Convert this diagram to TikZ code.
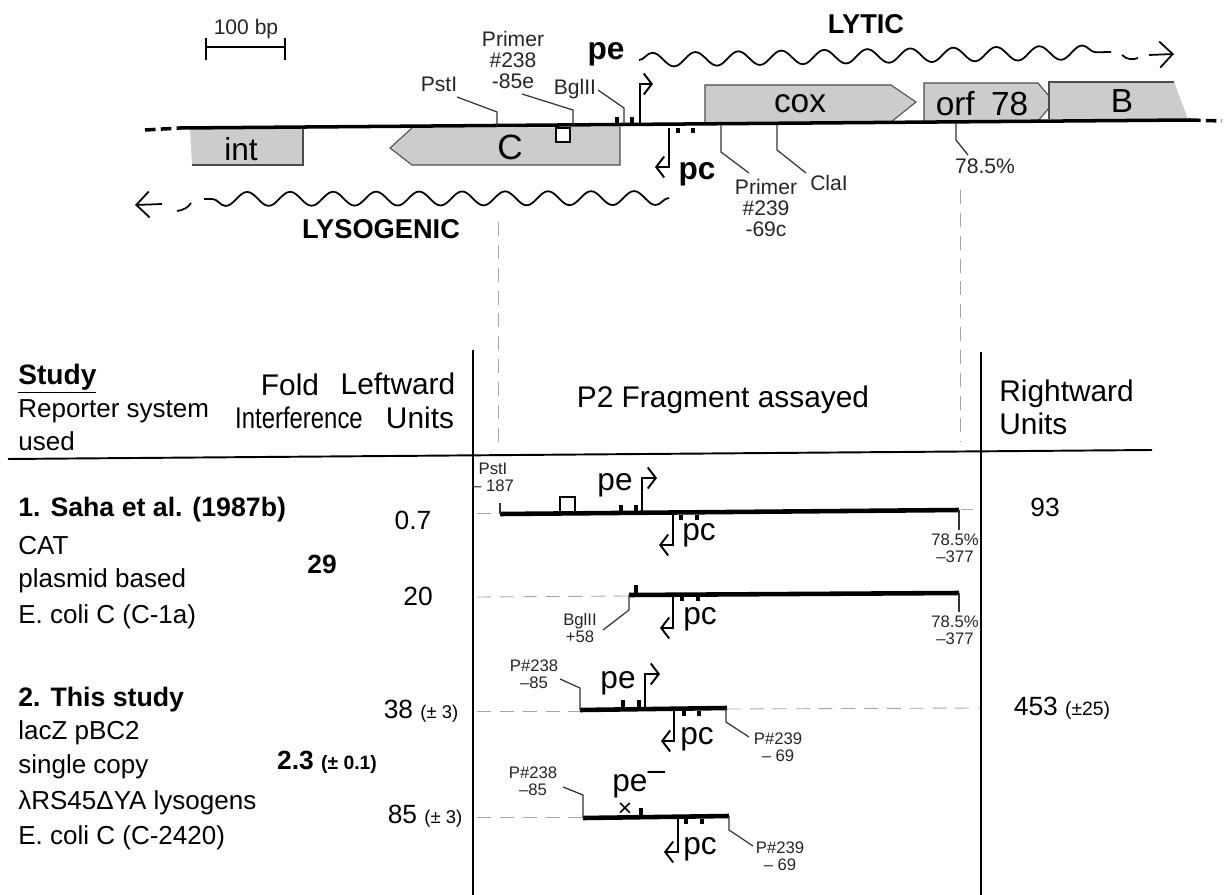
\documentclass[tikz,border=0pt]{standalone}
\usepackage{fontspec}
\setmainfont{Liberation Sans}
\usetikzlibrary{arrows.meta,decorations.pathmorphing}
\newcommand{\fsz}[1]{\fontsize{#1}{#1}\selectfont}
\begin{document}
\begin{tikzpicture}[x=0.02cm,y=-0.02cm,
    gene/.style={draw=black!70,line width=0.6pt,fill=black!20},
    dna/.style={line width=2pt},
    frag/.style={line width=2.6pt},
    site/.style={line width=2pt},
    leader/.style={line width=0.7pt,black!80},
    guide/.style={line width=0.5pt,black!35,dash pattern=on 8pt off 5pt},
    wave/.style={line width=1pt,decorate,decoration={snake,segment length=0.86cm,amplitude=0.14cm}},
    prom/.style={line width=1.1pt,-{Straight Barb[length=1.6mm,width=4.2mm,line width=1.1pt]}},
    tag/.style={font=\fsz{12},inner sep=0pt,align=center,black!85},
    small/.style={font=\fsz{9.5},inner sep=0pt,align=center,black!85},
    head/.style={font=\fsz{17},inner sep=0pt,align=center},
    side/.style={font=\fsz{14.8},inner sep=0pt,anchor=west},
    sidebf/.style={font=\fsz{15.2}\bfseries,inner sep=0pt,anchor=west},
    val/.style={font=\fsz{15},inner sep=0pt},
    big/.style={font=\fsz{18},inner sep=0pt}]
  \useasboundingbox (0,0) rectangle (1224,895);
  % scale bar
  \node[tag] (bar) at (246,29) {100 bp};
  \coordinate (barl) at (206,47);
  \coordinate (barr) at (285,47);
  \draw[line width=1.1pt] (barl) -- (barr);
  \draw[line width=1.1pt] (206,38) -- (206,60);
  \draw[line width=1.1pt] (285,38) -- (285,60);
  % genes
  \fill[black!20] (190,128) -- (303,128) -- (303,165) -- (192,165) -- cycle;
  \draw[gene,fill=none] (303,128) -- (303,165) -- (192,165);
  \fill[black!20] (620,127) -- (620,165) -- (412,165) -- (390,148) -- (412,128) -- cycle;
  \draw[gene,fill=none] (620,127) -- (620,165) -- (412,165) -- (390,148) -- (412,128);
  \fill[black!20] (705,123) -- (705,85) -- (891,85) -- (916,102) -- (891,122) -- cycle;
  \draw[gene,fill=none] (705,123) -- (705,85) -- (891,85) -- (916,102) -- (891,122);
  \fill[black!20] (924,122) -- (924,83) -- (1038,83) -- (1054,102) -- (1038,121) -- cycle;
  \draw[gene,fill=none] (924,122) -- (924,83) -- (1038,83) -- (1054,102) -- (1038,121);
  \fill[black!20] (1049,119) -- (1049,82) -- (1174,82) -- (1188,119) -- cycle;
  \draw[gene,fill=none] (1049,119) -- (1049,82) -- (1174,82);
  \node[big] (int) at (241,149) {int};
  \node[big,font=\fsz{20}] (c) at (510,147) {C};
  \node[big,font=\fsz{19}] (cox) at (800,104) {cox};
  \node[big,font=\fsz{19}] (orf) at (982,104) {orf\hspace{4pt} 78};
  \node[big,font=\fsz{19}] (b) at (1122,101) {B};
  % chromosome
  \coordinate (chl) at (180,128);
  \coordinate (chr) at (1190,120);
  \draw[dna] (chl) -- (chr);
  \draw[dna,dash pattern=on 6pt off 3pt] (145,130) -- (chl);
  \draw[dna,dash pattern=on 6pt off 3pt] (chr) -- (1222,121);
  \draw[line width=0.9pt,fill=white] (556,128) rectangle (570,142);
  % sites on the chromosome
  \node[tag] (pst) at (439,84) {PstI};
  \node[tag] (p238) at (513,60) {Primer\\\#238\\-85e};
  \node[tag] (bgl) at (575,89) {BglII};
  \node[tag] (p239) at (766,208) {Primer\\\#239\\-69c};
  \node[tag] (cla) at (829,183) {ClaI};
  \node[tag] (pct) at (985,166) {78.5\%};
  \coordinate (pstc) at (497,126);
  \coordinate (p238c) at (573,125);
  \coordinate (bglc) at (624,124);
  \coordinate (p239c) at (721,125);
  \coordinate (clac) at (777,125);
  \coordinate (pctc) at (956,123);
  \draw[leader] (457,97) -- (497,112) -- (pstc);
  \draw[leader] (522,94) -- (573,110) -- (p238c);
  \draw[leader] (598,90) -- (624,108) -- (bglc);
  \draw[leader] (p239c) -- (721,152) -- (749,173);
  \draw[leader] (clac) -- (777,150) -- (806,173);
  \draw[leader] (pctc) -- (956,140) -- (968,155);
  % promoters
  \draw[site] (617,117) -- (617,125);
  \draw[site] (632,117) -- (632,125);
  \draw[prom] (640,125) -- (640,84) -- (653,84);
  \node[big,font=\fsz{18}\bfseries] (pe) at (606,54) {pe};
  \draw[prom] (669,128) -- (669,167) -- (655,167);
  \draw[site] (678,128) -- (678,133);
  \draw[site] (693,128) -- (693,133);
  \node[big,font=\fsz{18}\bfseries] (pc) at (697,174) {pc};
  % transcripts
  \coordinate (lyta) at (639,60);
  \coordinate (lytb) at (1111,52);
  \draw[wave] (lyta) -- (lytb);
  \draw[line width=1pt] (1122,55) .. controls (1127,60) and (1133,60) .. (1138,58);
  \draw[prom,line width=1pt,-{Straight Barb[length=2.6mm,width=5.2mm,line width=1pt]}] (1149,55) -- (1174,54);
  \node[big,font=\fsz{15.5}\bfseries] (lytic) at (866,24) {LYTIC};
  \coordinate (lysa) at (669,198);
  \coordinate (lysb) at (204,199);
  \draw[wave] (lysa) -- (lysb);
  \draw[line width=1pt] (177,211) .. controls (183,210) and (188,208) .. (191,203);
  \draw[prom,line width=1pt,-{Straight Barb[length=2.6mm,width=5.2mm,line width=1pt]}] (162,204) -- (135,205);
  \node[big,font=\fsz{15.5}\bfseries] (lyso) at (381,229) {LYSOGENIC};
  % guide lines
  \draw[guide] (498,222) -- (498,445);
  \draw[guide] (960,190) -- (960,442);
  % table frame
  \draw[line width=1.4pt] (473,350) -- (473,895);
  \draw[line width=1.4pt] (981,352) -- (981,895);
  \draw[line width=1.1pt] (8,459) -- (1152,450);
  % table head
  \node[side,font=\fsz{16}\bfseries] (study) at (18,379) {\underline{Study}};
  \node[side] (rep) at (18,411) {Reporter system};
  \node[side] (used) at (18,441) {used};
  \node[head] (fold) at (290,385) {Fold};
  \node[head] (interf) at (299,418) {\scalebox{0.8}[1]{Interference}};
  \node[head] (left) at (398,384) {Leftward};
  \node[head] (lunits) at (420,418) {Units};
  \node[head] (frg) at (723,400) {P2 Fragment assayed};
  \node[head,anchor=west] (right) at (999,394) {Rightward};
  \node[head,anchor=west] (runits) at (999,424) {Units};
  % first study
  \node[sidebf] (saha) at (18,510) {1. Saha et al. (1987b)};
  \node[side] (cat) at (18,546) {CAT};
  \node[side] (plas) at (18,581) {plasmid based};
  \node[side] (coli1) at (18,617) {E. coli C (C-1a)};
  \node[val] (v07) at (413,520) {0.7};
  \node[val] (v20) at (418,596) {20};
  \node[val,font=\fsz{15}\bfseries] (v29) at (322,564) {29};
  \node[val] (v93) at (1045,507) {93};
  % second study
  \node[sidebf] (this) at (18,700) {2. This study};
  \node[side] (lacz) at (18,733) {lacZ pBC2};
  \node[side] (copy) at (18,767) {single copy};
  \node[side] (lam) at (18,803) {λRS45ΔYA lysogens};
  \node[side] (coli2) at (18,838) {E. coli C (C-2420)};
  \node[val] (v38) at (421,711) {38 {\fsz{10.5}(± 3)}};
  \node[val] (v85) at (425,816) {85 {\fsz{10.5}(± 3)}};
  \node[val,font=\fsz{15}\bfseries] (v23) at (327,762) {2.3 {\fsz{11}(± 0.1)}};
  \node[val] (v453) at (1062,708) {453 {\fsz{11}(±25)}};
  % fragment 1
  \draw[guide] (477,513) -- (500,513);
  \draw[guide] (961,509) -- (973,509);
  \draw[frag] (500,514) -- (959,510);
  \node[small] (f1pst) at (493,477) {PstI\\– 187};
  \draw[leader] (500,503) -- (500,514);
  \draw[line width=1.4pt] (560,513) -- (560,497) -- (575,497) -- (575,513);
  \draw[site] (621,505) -- (621,512);
  \draw[site] (636,505) -- (636,512);
  \draw[prom] (642,512) -- (642,478) -- (657,478);
  \node[big] (f1pe) at (615,485) {pe};
  \draw[prom] (673,515) -- (673,545) -- (659,545);
  \draw[site] (681,515) -- (681,520);
  \draw[site] (697,515) -- (697,520);
  \node[big] (f1pc) at (699,535) {pc};
  \draw[leader] (959,510) -- (959,530);
  \node[small] (f1pct) at (955,548) {78.5\%\\–377};
  % fragment 2
  \draw[guide] (477,597) -- (629,596);
  \draw[frag] (629,595) -- (959,593);
  \draw[site] (636,585) -- (636,594);
  \draw[leader] (959,593) -- (959,612);
  \draw[leader] (629,595) -- (629,610) -- (603,630);
  \node[small] (f2bgl) at (580,628) {BglII\\+58};
  \draw[prom] (673,596) -- (673,628) -- (660,628);
  \draw[site] (682,596) -- (682,601);
  \draw[site] (698,596) -- (698,601);
  \node[big] (f2pc) at (700,619) {pc};
  \node[small] (f2pct) at (955,630) {78.5\%\\–377};
  % fragment 3
  \draw[guide] (477,711) -- (580,711);
  \draw[guide] (727,709) -- (980,708);
  \draw[frag] (580,710) -- (727,708);
  \draw[leader] (560,679) -- (580,688) -- (580,710);
  \draw[leader] (726,708) -- (726,722) -- (749,737);
  \node[small] (f3p238) at (534,674) {P\#238\\–85};
  \node[small] (f3p239) at (778,747) {P\#239\\– 69};
  \draw[site] (623,700) -- (623,708);
  \draw[site] (639,700) -- (639,708);
  \draw[prom] (645,708) -- (645,674) -- (660,674);
  \node[big] (f3pe) at (618,683) {pe};
  \draw[prom] (674,710) -- (674,741) -- (661,741);
  \draw[site] (684,711) -- (684,716);
  \draw[site] (699,711) -- (699,716);
  \node[big] (f3pc) at (697,739) {pc};
  % fragment 4
  \draw[guide] (477,817) -- (583,817);
  \draw[frag] (583,818) -- (729,816);
  \draw[leader] (563,787) -- (583,795) -- (583,818);
  \draw[leader] (729,816) -- (729,830) -- (753,846);
  \node[small] (f4p238) at (533,781) {P\#238\\–85};
  \node[small] (f4p239) at (780,856) {P\#239\\– 69};
  \node[big,font=\fsz{14}] (f4x) at (625,810) {×};
  \draw[site] (641,808) -- (641,816);
  \draw[prom] (678,818) -- (678,852) -- (664,852);
  \node[big,anchor=west] (f4pe) at (612,785) {pe\raisebox{6pt}{–}};
  \draw[site] (686,819) -- (686,824);
  \draw[site] (702,819) -- (702,824);
  \node[big] (f4pc) at (700,849) {pc};
\end{tikzpicture}
\end{document}
